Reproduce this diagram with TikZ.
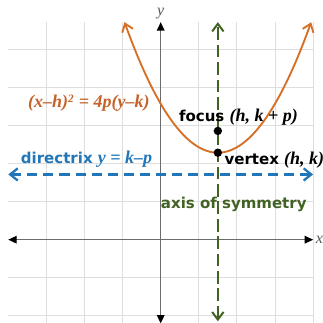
\documentclass[tikz,border=0pt]{standalone}
\usepackage{fontspec}
\setmainfont{DejaVu Sans}
\newfontfamily\mathserif[Scale=1.2]{Liberation Serif}
\usetikzlibrary{positioning,arrows.meta}
\definecolor{curveorange}{RGB}{214,112,38}
\definecolor{textorange}{RGB}{196,98,40}
\definecolor{directblue}{RGB}{32,118,184}
\definecolor{axisgreen}{RGB}{66,98,36}
\definecolor{gridgray}{RGB}{222,222,222}
\newcommand{\mvar}[1]{{\mathserif\bfseries\itshape #1}}
\tikzset{
  gridline/.style={draw=gridgray, line width=0.6pt},
  axisline/.style={draw=gray!85!black, line width=0.9pt, {Triangle[black, length=2.2mm, width=2mm]}-{Triangle[black, length=2.2mm, width=2mm]}},
  curveline/.style={draw=curveorange, line width=1.4pt, {Straight Barb[length=2mm, width=3mm]}-{Straight Barb[length=2mm, width=3mm]}},
  directline/.style={draw=directblue, line width=1.7pt, dash pattern=on 7.5pt off 4.5pt, {Straight Barb[length=2mm, width=3.2mm]}-{Straight Barb[length=2mm, width=3.2mm]}},
  symline/.style={draw=axisgreen, line width=1.5pt, dash pattern=on 9.5pt off 3.5pt, {Straight Barb[length=2mm, width=3mm]}-{Straight Barb[length=2mm, width=3mm]}},
  ptdot/.style={circle, fill=black, inner sep=0pt, minimum size=2.2mm},
  tag/.style={font=\fontsize{11.2}{13}\selectfont\bfseries, inner sep=1pt, anchor=west}
}

\begin{document}
\begin{tikzpicture}[x=0.5cm, y=0.5709cm]
  \clip (-8.436,-3.83) rectangle (8.52,11.02);
  \useasboundingbox (-8.436,-3.83) rectangle (8.52,11.02);
  % grid
  \draw[gridline] (-8,-4) grid (8,10);
  % axes
  \coordinate (xl) at (-8,0);
  \coordinate (xr) at (8,0);
  \coordinate (yt) at (0,10);
  \coordinate (yb) at (0,-3.85);
  \draw[axisline] (xl) -- (xr);
  \draw[axisline] (yb) -- (yt);
  \node[font=\mathserif\itshape, text=gray!70!black] (ylab) at (0,10.4) {y};
  \node[font=\mathserif\itshape, text=gray!70!black] (xlab) at (8.33,0) {x};
  % directrix and axis of symmetry
  \coordinate (dl) at (-8,3);
  \coordinate (dr) at (8,3);
  \coordinate (st) at (3,10);
  \coordinate (sb) at (3,-3.75);
  \draw[directline] (dl) -- (dr);
  \draw[symline] (sb) -- (st);
  % parabola
  \draw[curveline] plot[domain=-1.9:7.9, samples=80, smooth] (\x, {4+(\x-3)^2/4});
  \node[ptdot] (vertex) at (3,4) {};
  \node[ptdot] (focus) at (3,5) {};
  % labels
  \node[tag, anchor=east, text=textorange] (eqn) at (-0.5,6.27) {\mvar{(x–h)\textsuperscript{\scriptsize 2} = 4p(y–k)}};
  \node[tag] (focuslab) at (0.88,5.63) {focus \mvar{(h, k + p)}};
  \node[tag] (vertexlab) at (3.27,3.66) {vertex \mvar{(h, k)}};
  \node[tag, text=directblue] (directlab) at (-7.42,3.7) {directrix \mvar{y = k–p}};
  \node[tag, text=axisgreen] (symlab) at (-0.07,1.6) {axis of symmetry};
\end{tikzpicture}
\end{document}
